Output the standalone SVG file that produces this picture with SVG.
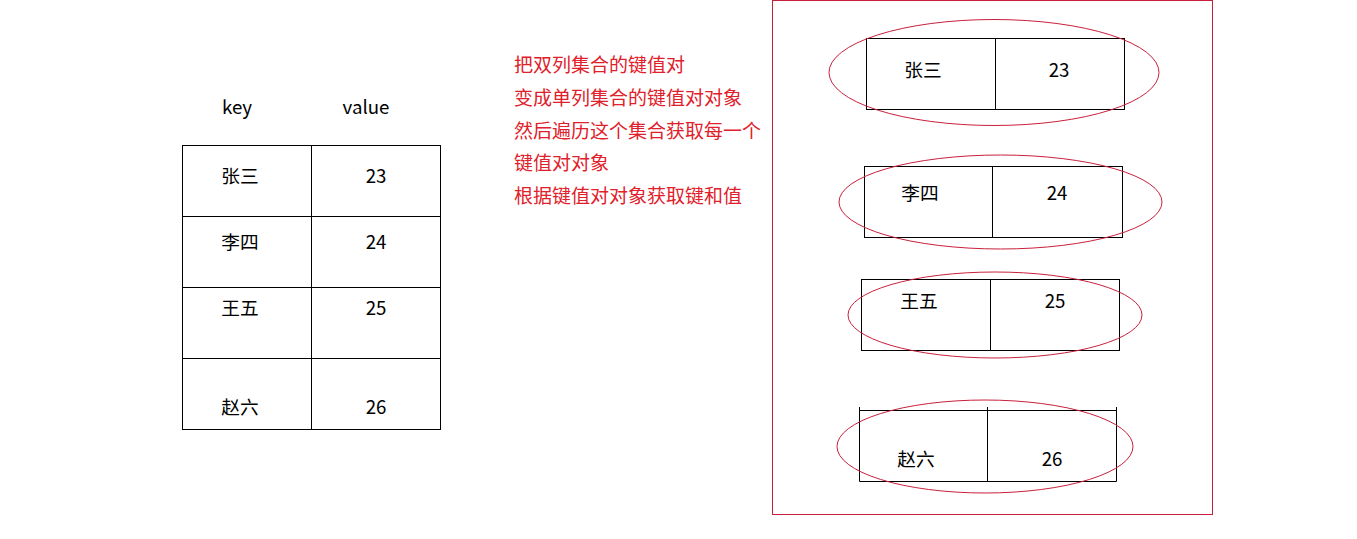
<svg xmlns="http://www.w3.org/2000/svg" width="1357" height="539" viewBox="0 0 1357 539">
<style>
.t{font-family:"Microsoft YaHei","Noto Sans CJK SC","Noto Sans",sans-serif;font-size:18.7px;fill:#000;text-anchor:middle;dominant-baseline:central}
.r{font-family:"Microsoft YaHei","Noto Sans CJK SC","Noto Sans",sans-serif;font-size:19px;fill:#e0202a}
.b{fill:none;stroke:#000;stroke-width:1}
.e{fill:none;stroke:#c8203c;stroke-width:1}
</style>
<rect width="1357" height="539" fill="#fff"/>
<g id="table">
<text class="t" x="237" y="105">key</text>
<text class="t" x="366" y="105">value</text>
<rect class="b" x="182.5" y="145.5" width="258" height="284"/>
<line class="b" x1="311.5" y1="145.5" x2="311.5" y2="429.5"/>
<line class="b" x1="182.5" y1="216.5" x2="440.5" y2="216.5"/>
<line class="b" x1="182.5" y1="287.5" x2="440.5" y2="287.5"/>
<line class="b" x1="182.5" y1="358.5" x2="440.5" y2="358.5"/>
<text class="t" x="240" y="174">张三</text><text class="t" x="376" y="174">23</text>
<text class="t" x="240" y="240">李四</text><text class="t" x="376" y="240">24</text>
<text class="t" x="240" y="306">王五</text><text class="t" x="376" y="306">25</text>
<text class="t" x="240" y="405">赵六</text><text class="t" x="376" y="405">26</text>
</g>
<g id="note">
<text class="r" x="514" y="72">把双列集合的键值对</text>
<text class="r" x="514" y="105">变成单列集合的键值对对象</text>
<text class="r" x="514" y="138">然后遍历这个集合获取每一个</text>
<text class="r" x="514" y="170">键值对对象</text>
<text class="r" x="514" y="203">根据键值对对象获取键和值</text>
</g>
<g id="container">
<rect x="772.5" y="0.5" width="440" height="514" fill="none" stroke="#c8203c" stroke-width="1"/>
</g>
<g id="entry1">
<rect class="b" x="866.5" y="38.5" width="258" height="71"/>
<line class="b" x1="995.5" y1="38.5" x2="995.5" y2="110"/>
<ellipse class="e" cx="994" cy="72.5" rx="165" ry="53"/>
<text class="t" x="923" y="68">张三</text><text class="t" x="1059" y="68">23</text>
</g>
<g id="entry2">
<rect class="b" x="864.5" y="166.5" width="258" height="71"/>
<line class="b" x1="992.5" y1="166.5" x2="992.5" y2="237.5"/>
<ellipse class="e" cx="1000.5" cy="202" rx="161.5" ry="47"/>
<text class="t" x="920" y="191">李四</text><text class="t" x="1057" y="191">24</text>
</g>
<g id="entry3">
<rect class="b" x="861.5" y="279.5" width="258" height="71"/>
<line class="b" x1="990.5" y1="279.5" x2="990.5" y2="350.5"/>
<ellipse class="e" cx="995" cy="315" rx="147" ry="43"/>
<text class="t" x="919" y="299">王五</text><text class="t" x="1055" y="299">25</text>
</g>
<g id="entry4">
<line class="b" x1="859.5" y1="410.5" x2="1116.5" y2="410.5"/>
<line class="b" x1="859.5" y1="481.5" x2="1116.5" y2="481.5"/>
<line class="b" x1="859.5" y1="407" x2="859.5" y2="481.5"/>
<line class="b" x1="987.5" y1="407" x2="987.5" y2="481.5"/>
<line class="b" x1="1116.5" y1="407" x2="1116.5" y2="481.5"/>
<ellipse class="e" cx="985" cy="446.5" rx="148" ry="46.5"/>
<text class="t" x="916" y="457">赵六</text><text class="t" x="1052" y="457">26</text>
</g>
<g id="connectors"></g>
</svg>
